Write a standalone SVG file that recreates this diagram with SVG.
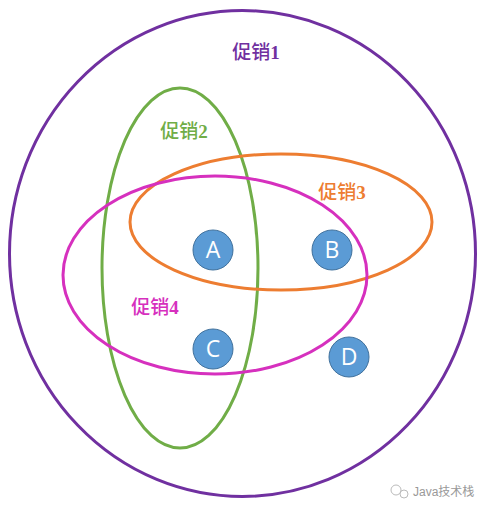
<svg xmlns="http://www.w3.org/2000/svg" width="490" height="512" viewBox="0 0 490 512">
<style>
.set{fill:none;stroke-width:3}
.lbl{font-family:"Liberation Serif","Noto Sans CJK SC",serif;font-size:19px;font-weight:500;text-anchor:middle}
.lbl tspan{font-weight:bold}
.pt circle{fill:#5B9BD5;stroke:#41719C;stroke-width:1}
.pt text{font-family:"Open Sans","Liberation Sans",sans-serif;font-size:23px;fill:#fff;text-anchor:middle}
.wm{font-family:"Liberation Sans","Noto Sans CJK SC",sans-serif;font-size:12px;fill:#999}
</style>
<rect width="490" height="512" fill="#fff"/>
<g id="sets">
<ellipse id="promo1" class="set" cx="242.5" cy="253.5" rx="233" ry="243" stroke="#7030A0"/>
<ellipse id="promo2" class="set" cx="180" cy="268" rx="78" ry="180" stroke="#70AD47"/>
<ellipse id="promo3" class="set" cx="281" cy="222" rx="151" ry="68" stroke="#ED7D31"/>
<ellipse id="promo4" class="set" cx="215" cy="275" rx="152" ry="99" stroke="#D630BE"/>
</g>
<g id="labels">
<text class="lbl" x="256" y="59" fill="#7030A0">促销<tspan>1</tspan></text>
<text class="lbl" x="184" y="138" fill="#70AD47">促销<tspan>2</tspan></text>
<text class="lbl" x="342" y="199" fill="#ED7D31">促销<tspan>3</tspan></text>
<text class="lbl" x="155" y="314" fill="#D630BE">促销<tspan>4</tspan></text>
</g>
<g id="A" class="pt"><circle cx="213" cy="250" r="20"/><text x="213" y="258">A</text></g>
<g id="B" class="pt"><circle cx="332" cy="250" r="20"/><text x="332" y="258">B</text></g>
<g id="C" class="pt"><circle cx="213" cy="349" r="20"/><text x="213" y="357">C</text></g>
<g id="D" class="pt"><circle cx="349" cy="357" r="20"/><text x="349" y="365">D</text></g>
<g id="watermark">
<circle cx="396" cy="490" r="5" fill="none" stroke="#bbb" stroke-width="1"/>
<circle cx="404" cy="494" r="4" fill="none" stroke="#bbb" stroke-width="1"/>
<text class="wm" x="413" y="496">Java技术栈</text>
</g>
</svg>
